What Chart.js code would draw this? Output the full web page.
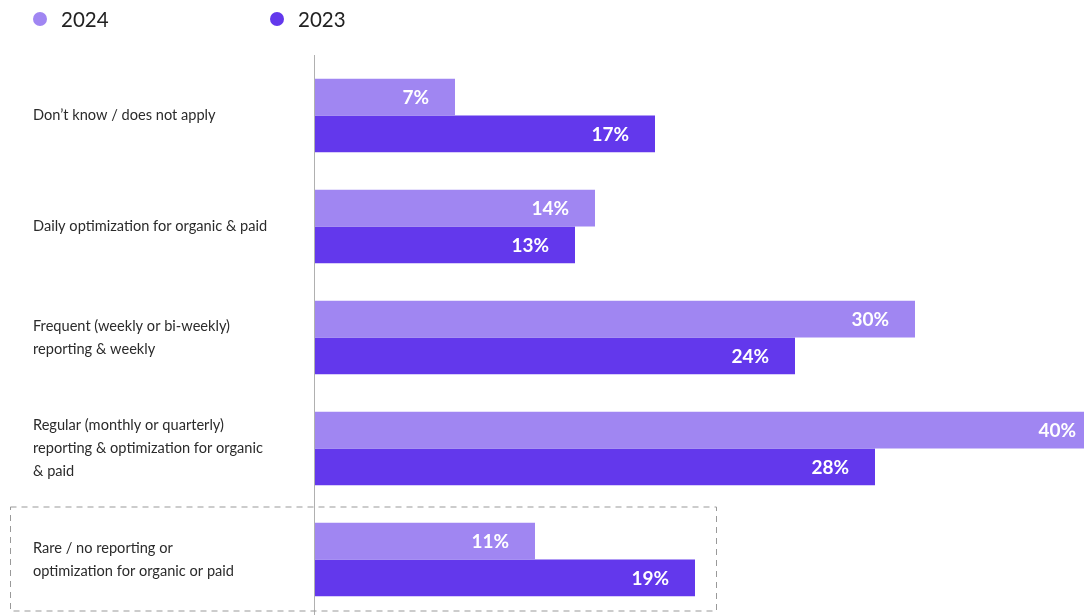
<!DOCTYPE html>
<html>
<head>
<meta charset="utf-8">
<script src="https://cdn.jsdelivr.net/npm/chart.js@4"></script>
<style>
  html, body { margin: 0; padding: 0; background: #fff; }
  #wrap { width: 1084px; height: 615px; position: relative; }
</style>
</head>
<body>
<div id="wrap"><canvas id="myChart"></canvas></div>
<script>
// categories (multi-line labels as arrays)
const categories = [
    "Don\u2019t know / does not apply",
    "Daily optimization for organic & paid",
    ["Frequent (weekly or bi-weekly)", "reporting & weekly"],
    ["Regular (monthly or quarterly)", "reporting & optimization for organic", "& paid"],
    ["Rare / no reporting or", "optimization for organic or paid"]
]
const values2024 = [7, 14, 30, 40, 11]
const values2023 = [17, 13, 24, 28, 19]
const seriesNames = ["2024", "2023"]
const colors = ["#a086f2", "#6338ec"]

// legend drawn at the top, items spaced wide apart
const topLegend = {
    id: 'topLegend',
    afterDraw(chart) {
        const ctx = chart.ctx
        const xs = [40, 277]
        ctx.save()
        chart.data.datasets.forEach((ds, i) => {
            ctx.fillStyle = ds.backgroundColor
            ctx.beginPath()
            ctx.arc(xs[i], 19, 7, 0, Math.PI * 2)
            ctx.fill()
            ctx.fillStyle = '#222'
            ctx.font = '20.5px Lato'
            ctx.textBaseline = 'middle'
            ctx.textAlign = 'left'
            ctx.fillText(ds.label, xs[i] + 21, 20)
        })
        ctx.restore()
    }
}

// value labels inside the bar ends
const barLabels = {
    id: 'barLabels',
    afterDatasetsDraw(chart) {
        const ctx = chart.ctx
        const area = chart.chartArea
        ctx.save()
        ctx.font = 'bold 19px Lato'
        ctx.fillStyle = '#fff'
        ctx.textAlign = 'right'
        ctx.textBaseline = 'middle'
        chart.data.datasets.forEach((ds, i) => {
            chart.getDatasetMeta(i).data.forEach((bar, j) => {
                let x = bar.x - 26
                if (bar.x > area.right) x = area.right - 8
                ctx.fillText(ds.data[j] + '%', x, bar.y + 1)
            })
        })
        ctx.restore()
    }
}

// axis line + dashed box around the last category
const decorations = {
    id: 'decorations',
    afterDraw(chart) {
        const ctx = chart.ctx
        const area = chart.chartArea
        const y = chart.scales.y
        ctx.save()
        ctx.strokeStyle = '#b0b0b0'
        ctx.lineWidth = 1
        ctx.beginPath()
        ctx.moveTo(area.left - 0.5, 55)
        ctx.lineTo(area.left - 0.5, chart.height)
        ctx.stroke()

        const c = y.getPixelForValue(4)
        ctx.strokeStyle = '#999'
        ctx.setLineDash([6, 5])
        ctx.strokeRect(10.5, c - 52.5, 706, 104)
        ctx.restore()
    }
}

const config = {
    type: 'bar',
    data: {
        labels: categories,
        datasets: [
            { label: seriesNames[0], data: values2024, backgroundColor: colors[0] },
            { label: seriesNames[1], data: values2023, backgroundColor: colors[1] }
        ]
    },
    options: {
        indexAxis: 'y',
        responsive: true,
        maintainAspectRatio: false,
        animation: false,
        datasets: {
            bar: { barPercentage: 1, categoryPercentage: 0.66, borderWidth: 0 }
        },
        layout: {
            padding: { top: 60, left: 33, right: 0, bottom: 0 }
        },
        plugins: {
            legend: { display: false },
            tooltip: { enabled: false }
        },
        scales: {
            x: {
                min: 0,
                max: 38.45,
                display: false,
                grid: { display: false }
            },
            y: {
                grid: { display: false },
                border: { display: false },
                afterFit: scale => {
                    scale.width = 282
                    scale.paddingTop = 0
                    scale.paddingBottom = 0
                },
                ticks: {
                    crossAlign: 'far',
                    color: '#2b2b2b',
                    font: { family: 'Lato', size: 14.6, lineHeight: 1.58 }
                }
            }
        }
    },
    plugins: [topLegend, barLabels, decorations]
}

const myChart = new Chart(document.getElementById('myChart'), config)
</script>
</body>
</html>
